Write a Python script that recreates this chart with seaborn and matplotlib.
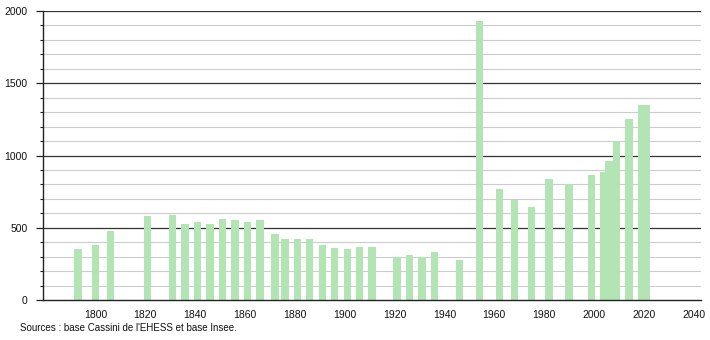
import matplotlib
matplotlib.use("Agg")
import matplotlib.pyplot as plt
import seaborn as sns
import pandas as pd
from matplotlib.ticker import MultipleLocator

years = [1793, 1800, 1806, 1821, 1831, 1836, 1841, 1846, 1851, 1856, 1861, 1866,
         1872, 1876, 1881, 1886, 1891, 1896, 1901, 1906, 1911, 1921, 1926, 1931,
         1936, 1946, 1954, 1962, 1968, 1975, 1982, 1990, 1999, 2004, 2006, 2009,
         2014, 2019, 2021]
population = [352, 380, 478, 580, 588, 526, 542, 526, 560, 556, 542, 554,
              455, 422, 422, 422, 381, 360, 353, 367, 365, 295, 311, 295,
              330, 277, 1931, 768, 692, 641, 836, 804, 865, 888, 962, 1097,
              1251, 1349, 1349]
source_text = "Sources : base Cassini de l'EHESS et base Insee."

df = pd.DataFrame({"year": years, "population": population})

sns.set_theme(style="white")
plt.rcParams["font.family"] = ["Liberation Sans", "DejaVu Sans"]

fig = plt.figure(figsize=(7.1, 3.4), dpi=100)
ax = fig.add_axes([0.0606, 0.1176, 0.927, 0.85])

ax.set_xlim(1779, 2043)
ax.set_ylim(0, 2000)

# grid lines
for v in range(100, 2001, 100):
    if v % 500 == 0:
        ax.axhline(v, color="#333333", lw=0.9, zorder=1)
    else:
        ax.axhline(v, color="#cccccc", lw=0.8, zorder=1)

ax.bar(df["year"], df["population"], width=2.95, color="#b3e4b3",
       edgecolor="none", zorder=2)

for s in ["top", "right"]:
    ax.spines[s].set_visible(False)
ax.spines["left"].set_color("#222222")
ax.spines["bottom"].set_color("#222222")
ax.spines["left"].set_linewidth(1.0)
ax.spines["bottom"].set_linewidth(1.0)

ax.set_xticks(list(range(1800, 2041, 20)))
ax.yaxis.set_major_locator(MultipleLocator(500))
ax.yaxis.set_minor_locator(MultipleLocator(100))
ax.tick_params(axis="y", which="major", left=True, length=5, width=0.9,
               color="#222222", labelsize=7.5, pad=6, labelcolor="#111111")
ax.tick_params(axis="y", which="minor", left=True, length=2.5, width=0.8,
               color="#222222")
ax.tick_params(axis="x", which="major", bottom=False, labelsize=7.5, pad=1,
               labelcolor="#111111")
ax.set_xlabel("")
ax.set_ylabel("")

fig.text(20 / 710, 1 - 328 / 340, source_text, fontsize=7, color="#111111",
         ha="left", va="center")

fig.savefig("out.png", dpi=100)
